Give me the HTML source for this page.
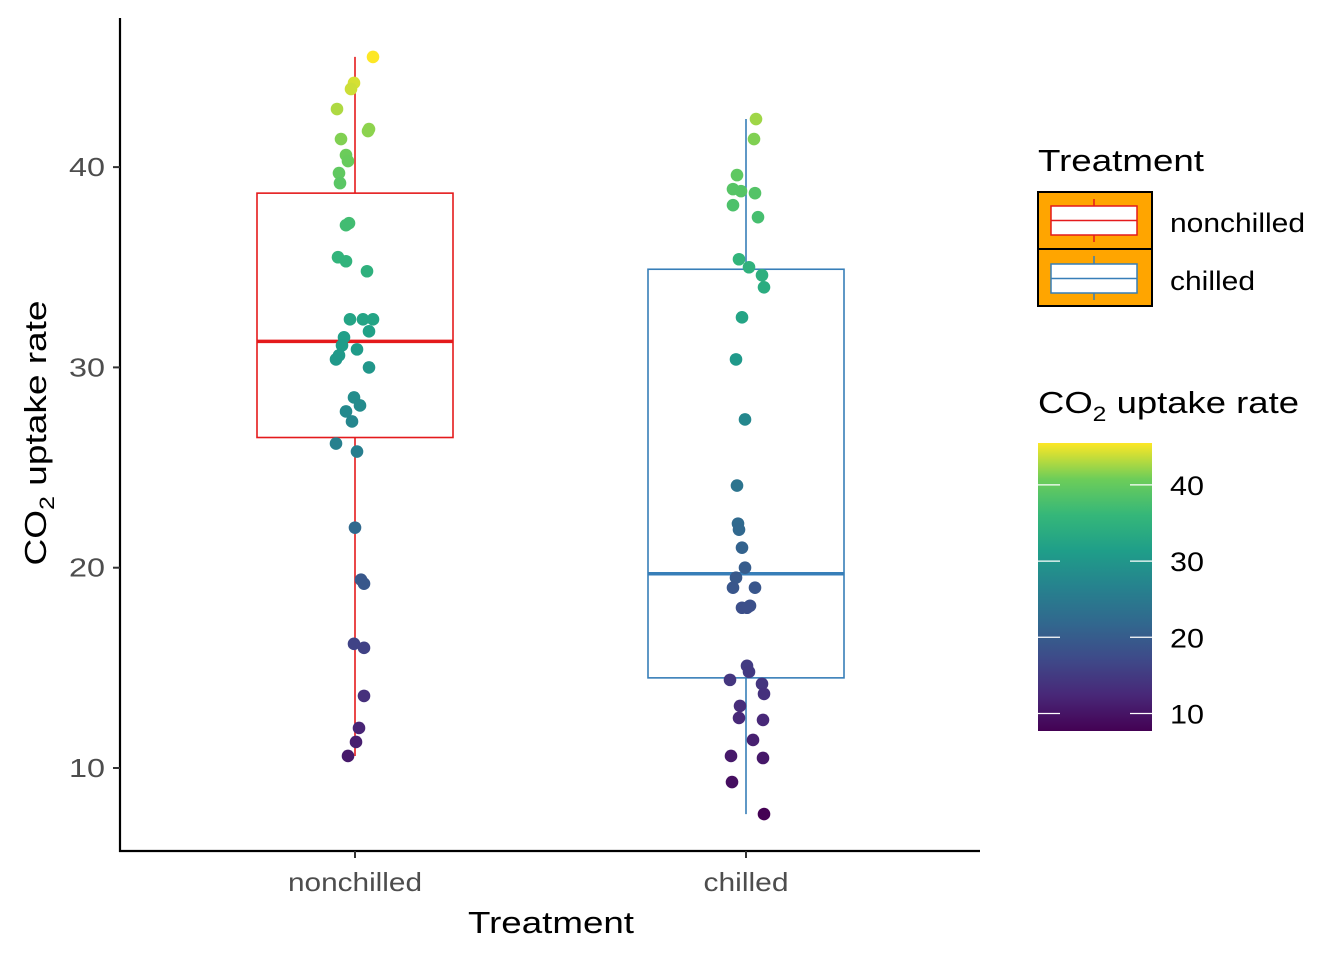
<!DOCTYPE html>
<html><head><meta charset="utf-8"><style>
body{margin:0;background:#fff;}
svg{display:block;font-family:"Liberation Sans",Arial,sans-serif;}
</style></head><body>
<svg id="chart" width="1344" height="960" viewBox="0 0 1344 960">
<g id="plot"></g>
<line x1="120" y1="18" x2="120" y2="852" stroke="#000" stroke-width="2.2"/>
<line x1="119" y1="851" x2="980" y2="851" stroke="#000" stroke-width="2.2"/>
<g id="axes"></g>
<text x="46" y="433" transform="rotate(-90 46 433)" text-anchor="middle" font-size="31" fill="#000" textLength="265" lengthAdjust="spacingAndGlyphs">CO<tspan font-size="21" dy="8">2</tspan><tspan dy="-8"> uptake rate</tspan></text>
<text x="551" y="933" text-anchor="middle" font-size="31" fill="#000" textLength="166" lengthAdjust="spacingAndGlyphs">Treatment</text>
<text x="1038" y="171" font-size="31" fill="#000" textLength="166" lengthAdjust="spacingAndGlyphs">Treatment</text>
<g>
<rect x="1038" y="192" width="114" height="57" fill="#FFA500" stroke="#000" stroke-width="2"/>
<line x1="1094" y1="199" x2="1094" y2="242" stroke="#E41A1C" stroke-width="1.5"/>
<rect x="1051" y="206" width="86" height="29" fill="#fff" stroke="#E41A1C" stroke-width="1.5"/>
<line x1="1051" y1="220.5" x2="1137" y2="220.5" stroke="#E41A1C" stroke-width="1.5"/>
<text x="1170" y="232" font-size="27" fill="#000" textLength="135" lengthAdjust="spacingAndGlyphs">nonchilled</text>
</g>
<g>
<rect x="1038" y="249" width="114" height="57" fill="#FFA500" stroke="#000" stroke-width="2"/>
<line x1="1094" y1="256" x2="1094" y2="300" stroke="#377EB8" stroke-width="1.5"/>
<rect x="1051" y="264" width="86" height="29" fill="#fff" stroke="#377EB8" stroke-width="1.5"/>
<line x1="1051" y1="278.5" x2="1137" y2="278.5" stroke="#377EB8" stroke-width="1.5"/>
<text x="1170" y="290" font-size="27" fill="#000" textLength="85" lengthAdjust="spacingAndGlyphs">chilled</text>
</g>
<text x="1038" y="413" font-size="31" fill="#000" textLength="261" lengthAdjust="spacingAndGlyphs">CO<tspan font-size="21" dy="8">2</tspan><tspan dy="-8"> uptake rate</tspan></text>
<defs><linearGradient id="vir" x1="0" y1="1" x2="0" y2="0">
<stop offset="0" stop-color="#440154"/><stop offset="0.125" stop-color="#482878"/><stop offset="0.25" stop-color="#3E4A89"/><stop offset="0.375" stop-color="#31688E"/><stop offset="0.5" stop-color="#26828E"/><stop offset="0.625" stop-color="#1F9E89"/><stop offset="0.75" stop-color="#35B779"/><stop offset="0.875" stop-color="#6DCD59"/><stop offset="1" stop-color="#FDE725"/>
</linearGradient></defs>
<rect x="1038" y="443" width="114" height="288" fill="url(#vir)"/>
<g id="cbticks"></g>
</svg>
<script>
const categories=["nonchilled","chilled"];
const nonchilledValues=[45.5,44.2,43.9,42.9,41.9,41.8,41.4,40.6,40.3,39.7,39.2,37.2,37.1,35.5,35.3,34.8,32.4,32.4,32.4,31.8,31.5,31.1,30.9,30.6,30.4,30.0,28.5,28.1,27.8,27.3,26.2,25.8,22.0,19.4,19.2,16.2,16.0,13.6,12.0,11.3,10.6];
const nonchilledJitter=[18,-1,-4,-18,14,13,-14,-9,-7,-16,-15,-6,-9,-17,-9,12,-5,8,18,14,-11,-13,2,-16,-19,14,-1,5,-9,-3,-19,2,0,6,9,-1,9,9,4,1,-7];
const chilledValues=[42.4,41.4,39.6,38.9,38.8,38.7,38.1,37.5,35.4,35.0,34.6,34.0,32.5,30.4,27.4,24.1,22.2,21.9,21.0,20.0,19.5,19.0,19.0,18.0,18.1,18.0,15.1,14.8,14.4,14.2,13.7,13.1,12.5,12.4,11.4,10.6,10.5,9.3,7.7];
const chilledJitter=[10,8,-9,-13,-5,9,-13,12,-7,3,16,18,-4,-10,-1,-9,-8,-7,-4,-1,-10,9,-13,-4,4,1,1,3,-16,16,18,-6,-7,17,7,-15,17,-14,18];
const boxStats=[[10.6,26.5,31.3,38.7,45.5],[7.7,14.5,19.7,34.9,42.4]];
const yTicks=[10,20,30,40];
const cbTicks=[10,20,30,40];
const colors=["#E41A1C","#377EB8"];
const ns="http://www.w3.org/2000/svg";
const y=v=>768-(v-10)*20.03;
const x=i=>355+i*391;
const cbMin=7.7,cbMax=45.5,cbY=v=>731-(v-cbMin)/(cbMax-cbMin)*288;
const vir=["#440154","#482878","#3E4A89","#31688E","#26828E","#1F9E89","#35B779","#6DCD59","#FDE725"];
function hex(h){return [1,3,5].map(i=>parseInt(h.substr(i,2),16));}
function col(v){let t=Math.max(0,Math.min(1,(v-cbMin)/(cbMax-cbMin)))*8;let i=Math.min(7,Math.floor(t)),f=t-i;let a=hex(vir[i]),b=hex(vir[i+1]);return "rgb("+a.map((c,k)=>Math.round(c+(b[k]-c)*f)).join(",")+")";}
function mk(tag,at,parent){const e=document.createElementNS(ns,tag);for(const k in at)e.setAttribute(k,at[k]);parent.appendChild(e);return e;}
const plot=document.getElementById("plot"),axes=document.getElementById("axes"),cb=document.getElementById("cbticks");
boxStats.forEach((s,i)=>{
 const g=mk("g",{},plot);
 
 
 const c=colors[i],cx=x(i);
 mk("line",{x1:cx,x2:cx,y1:y(s[0]),y2:y(s[1]),stroke:c,"stroke-width":1.6},g);
 mk("line",{x1:cx,x2:cx,y1:y(s[3]),y2:y(s[4]),stroke:c,"stroke-width":1.6},g);
 mk("rect",{x:cx-98,y:y(s[3]),width:196,height:y(s[1])-y(s[3]),fill:"none",stroke:c,"stroke-width":1.6},g);
 mk("line",{x1:cx-98,x2:cx+98,y1:y(s[2]),y2:y(s[2]),stroke:c,"stroke-width":3.5},g);
});
[[nonchilledValues,nonchilledJitter],[chilledValues,chilledJitter]].forEach(([vals,jit],i)=>{
 vals.forEach((v,k)=>{
  const p=mk("circle",{cx:x(i)+jit[k],cy:y(v),r:6.3,fill:col(v)},plot);
  
  
 });
});
yTicks.forEach(t=>{
 mk("line",{x1:113,x2:120,y1:y(t),y2:y(t),stroke:"#333","stroke-width":2},axes);
 const tx=mk("text",{x:105,y:y(t)+9,"text-anchor":"end","font-size":26,fill:"#4d4d4d",textLength:36,lengthAdjust:"spacingAndGlyphs"},axes);
 tx.textContent=t;
 
 
});
const xTickWidths=[134,85];
categories.forEach((c,i)=>{
 mk("line",{x1:x(i),x2:x(i),y1:851,y2:858,stroke:"#333","stroke-width":2},axes);
 const tx=mk("text",{x:x(i),y:891,"text-anchor":"middle","font-size":26,fill:"#4d4d4d",textLength:xTickWidths[i],lengthAdjust:"spacingAndGlyphs"},axes);
 tx.textContent=c;
 
 
});
cbTicks.forEach(t=>{
 mk("line",{x1:1038,x2:1060,y1:cbY(t),y2:cbY(t),stroke:"#fff","stroke-width":1.2},cb);
 mk("line",{x1:1130,x2:1152,y1:cbY(t),y2:cbY(t),stroke:"#fff","stroke-width":1.2},cb);
 const tx=mk("text",{x:1170,y:cbY(t)+10,"font-size":27,fill:"#000",textLength:34,lengthAdjust:"spacingAndGlyphs"},cb);
 tx.textContent=t;
 
 
});
</script>
</body></html>
